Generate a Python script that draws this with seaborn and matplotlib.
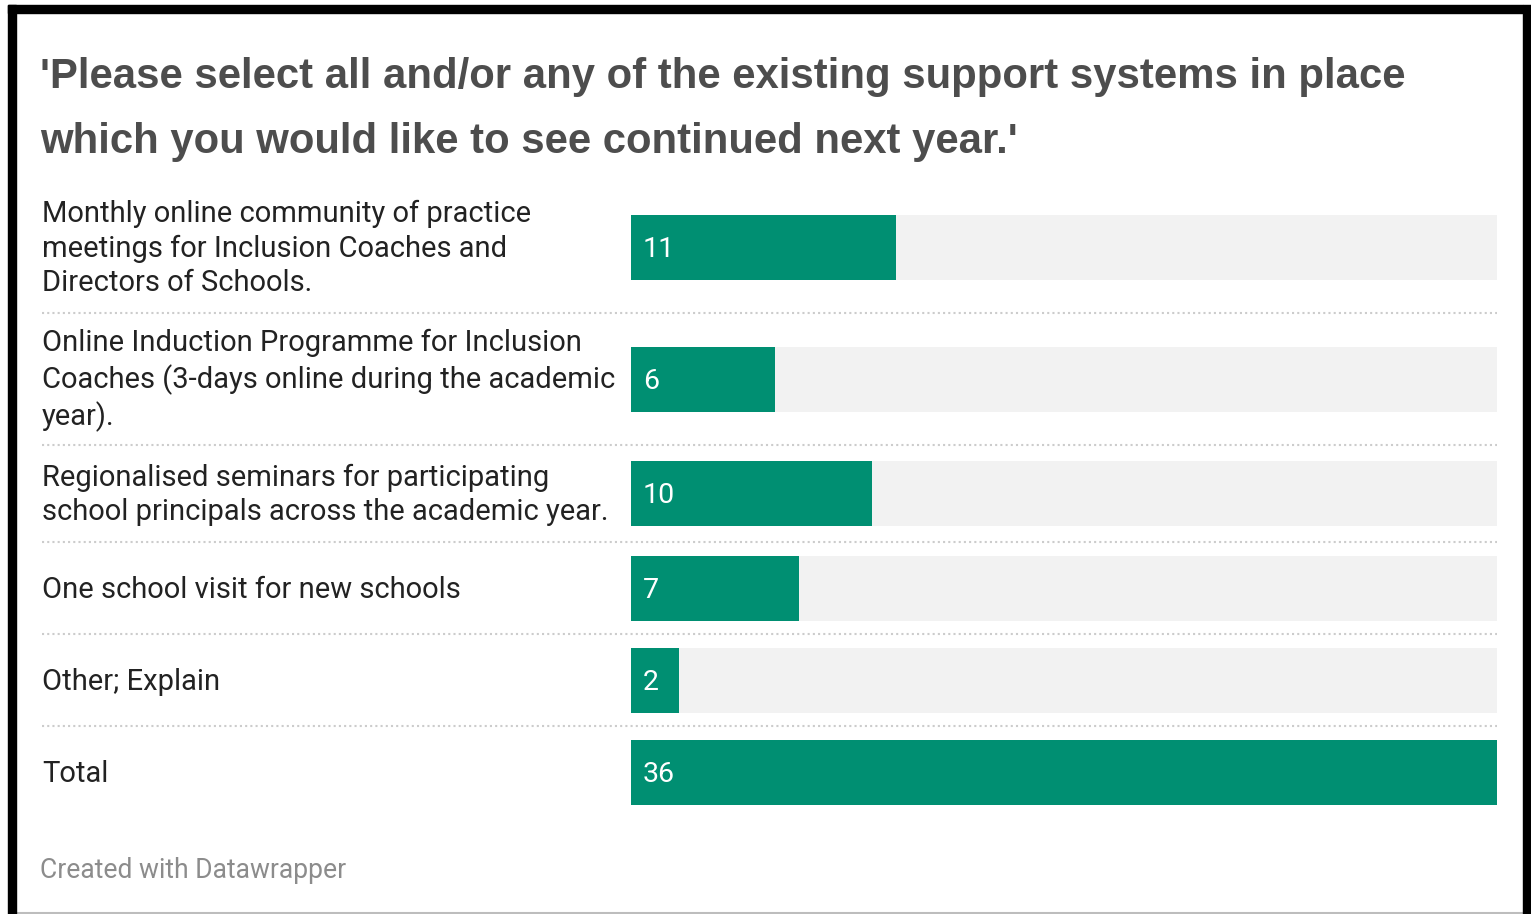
import matplotlib
matplotlib.use("Agg")
import matplotlib.pyplot as plt
import seaborn as sns
import pandas as pd
from matplotlib.patches import Rectangle
from matplotlib.lines import Line2D

# ---------------- data ----------------
categories = [
    "Monthly online community of practice\nmeetings for Inclusion Coaches and\nDirectors of Schools.",
    "Online Induction Programme for Inclusion\nCoaches (3-days online during the academic\nyear).",
    "Regionalised seminars for participating\nschool principals across the academic year.",
    "One school visit for new schools",
    "Other; Explain",
    "Total",
]
values = [11, 6, 10, 7, 2, 36]
title_lines = [
    "'Please select all and/or any of the existing support systems in place",
    "which you would like to see continued next year.'",
]
footer = "Created with Datawrapper"

# ---------------- style ----------------
BAR = "#008f72"
BG = "#f2f2f2"
sns.set_theme(style="white")
plt.rcParams["font.family"] = ["Roboto", "DejaVu Sans"]

W, H = 1531, 914
fig = plt.figure(figsize=(W / 100, H / 100), dpi=100)
fig.patch.set_facecolor("white")

def fx(px):
    return px / W

def fy(py):
    return 1 - py / H

# frame
fig.patches.append(Rectangle((fx(8), 0), fx(8), fy(5), transform=fig.transFigure, color="black", zorder=10))
fig.patches.append(Rectangle((fx(8), fy(13)), fx(1523 - 8), fy(5) - fy(13), transform=fig.transFigure, color="black", zorder=10))
fig.patches.append(Rectangle((fx(1523), 0), fx(8), fy(5), transform=fig.transFigure, color="black", zorder=10))
fig.lines.append(Line2D([fx(16), fx(1523)], [fy(912.5), fy(912.5)], transform=fig.transFigure, color="#bdbdbd", lw=1.5))

# title
for i, line in enumerate(title_lines):
    fig.text(fx(40), fy(88 + 65 * i), line, fontsize=30.2, fontweight="bold",
             color="#4d4d4d", family=["Liberation Sans", "DejaVu Sans"], va="baseline", ha="left")

# rows
vmax = max(values)
x0, x1 = 631, 1497
bar_h = 65
line_h = 35
pad = 27
top = 181
for cat, val in zip(categories, values):
    n = cat.count("\n") + 1
    row_h = max(bar_h, n * line_h) + pad
    cy = top + row_h / 2
    ax = fig.add_axes([fx(x0), fy(cy + bar_h / 2), fx(x1 - x0), bar_h / H])
    df = pd.DataFrame({"cat": [cat], "val": [val], "bg": [vmax]})
    sns.barplot(data=df, x="bg", y="cat", orient="h", color=BG, width=1, ax=ax,
                saturation=1, linewidth=0)
    sns.barplot(data=df, x="val", y="cat", orient="h", color=BAR, width=1, ax=ax,
                saturation=1, linewidth=0)
    ax.set_xlim(0, vmax)
    ax.set_ylim(0.5, -0.5)
    ax.axis("off")
    ax.annotate(str(val), xy=(0, 0), xytext=(8.5, -1.5), textcoords="offset points",
                color="white", fontsize=20.5, va="center", ha="left")
    fig.text(fx(42), fy(cy + 1.5), cat, fontsize=21.0, color="#222222", va="center", ha="left",
             linespacing=1.28)
    top += row_h
    if top < 800:
        fig.lines.append(Line2D([fx(42), fx(1497)], [fy(top), fy(top)], transform=fig.transFigure,
                                color="#cccccc", lw=1.5, linestyle=(0, (1, 1.5))))

fig.text(fx(40), fy(871), footer, fontsize=19.1, color="#8c8c8c", va="center", ha="left")

fig.savefig("out.png", dpi=100, facecolor="white")
